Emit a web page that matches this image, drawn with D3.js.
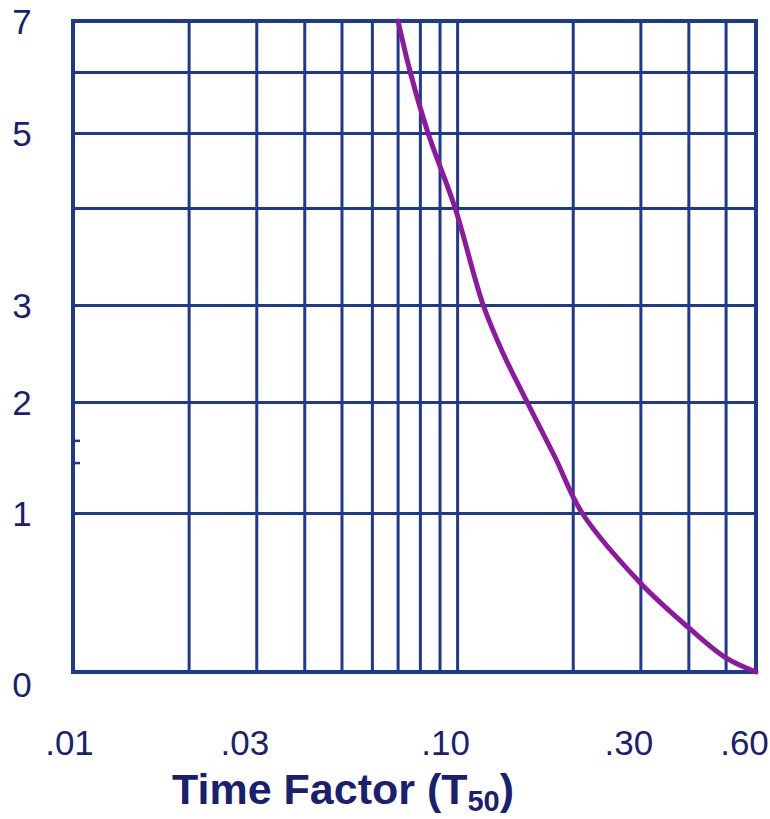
<!DOCTYPE html>
<html>
<head>
<meta charset="utf-8">
<script src="https://cdn.jsdelivr.net/npm/d3@7"></script>
<style>
  html, body { margin: 0; padding: 0; background: #fff; }
  svg { display: block; font-family: "Liberation Sans", Arial, sans-serif; }
</style>
</head>
<body>
<div id="chart"></div>
<script>
// x grid (time factor, log) and labels
var xGrid = [0.02, 0.03, 0.04, 0.05, 0.06, 0.07, 0.08, 0.09, 0.10, 0.20, 0.30, 0.40, 0.50];
var xTicks = [0.01, 0.03, 0.10, 0.30, 0.60];
var xTickText = [".01", ".03", ".10", ".30", ".60"];

// y grid levels and labels
var yLevels = [0, 1, 2, 3, 4, 5, 6, 7];
var yTicks = [0, 1, 2, 3, 5, 7];
var edgeMarks = [1.45, 1.65];

// curve
var timeFactor = [0.0702, 0.0755, 0.0840, 0.0988, 0.1169, 0.1318, 0.1521, 0.180, 0.2116, 0.30, 0.40, 0.50, 0.60];
var curveVal   = [7, 6, 5, 4, 3, 2.5, 2, 1.5, 1, 0.56, 0.28, 0.09, 0];

var W = 770, H = 819;
var gridCol = "#1d3a8f", textCol = "#1a1f70", curveCol = "#8b1a9e";

var svg = d3.select("#chart").append("svg").attr("width", W).attr("height", H);

var x = d3.scaleLog().domain([0.01, 0.6]).range([73, 756]);
// the printed y axis is not evenly spaced, so map it piecewise
var y = d3.scaleLinear().domain(yLevels).range([672, 513, 402, 305, 208, 133, 72, 21]);

var pTop = y(7), pBottom = y(0), pLeft = x(0.01), pRight = x(0.6);

// vertical grid
svg.append("g")
    .attr("transform", "translate(0," + pBottom + ")")
    .call(d3.axisBottom(x).tickValues(xGrid).tickSize(-(pBottom - pTop)).tickFormat(""))
    .call(function (g) {
        g.select(".domain").remove();
        g.selectAll("line").attr("stroke", gridCol).attr("stroke-width", 3);
    });

// horizontal grid
svg.append("g")
    .attr("transform", "translate(" + pLeft + ",0)")
    .call(d3.axisLeft(y).tickValues(yLevels.slice(1, 7)).tickSize(-(pRight - pLeft)).tickFormat(""))
    .call(function (g) {
        g.select(".domain").remove();
        g.selectAll("line").attr("stroke", gridCol).attr("stroke-width", 3);
    });

// frame
svg.append("rect")
    .attr("x", pLeft).attr("y", pTop)
    .attr("width", pRight - pLeft).attr("height", pBottom - pTop)
    .attr("fill", "none").attr("stroke", gridCol).attr("stroke-width", 4);

// little marks on the left edge
svg.selectAll(".mark").data(edgeMarks).enter().append("line")
    .attr("x1", pLeft).attr("x2", pLeft + 7)
    .attr("y1", function (d) { return y(d); }).attr("y2", function (d) { return y(d); })
    .attr("stroke", gridCol).attr("stroke-width", 2.5);

// x labels
svg.append("g")
    .attr("transform", "translate(0," + 755 + ")")
    .call(d3.axisBottom(x).tickValues(xTicks).tickSize(0)
        .tickFormat(function (d, i) { return xTickText[i]; }))
    .call(function (g) {
        g.select(".domain").remove();
        g.selectAll("text")
            .attr("y", 0).attr("dy", 0)
            .attr("dx", function (d, i) { return i === 0 ? -4 : -12; })
            .attr("fill", textCol)
            .style("font-size", "35px");
    });

// y labels
svg.append("g")
    .attr("transform", "translate(22,0)")
    .call(d3.axisLeft(y).tickValues(yTicks).tickSize(0).tickFormat(d3.format("d")))
    .call(function (g) {
        g.select(".domain").remove();
        g.selectAll("text")
            .attr("x", 0).attr("text-anchor", "middle")
            .attr("dy", function (d) { return d === 0 ? "0.7em" : "0.36em"; })
            .attr("fill", textCol)
            .style("font-size", "35px");
    });

// curve
var pts = timeFactor.map(function (t, i) { return [t, curveVal[i]]; });
var line = d3.line()
    .x(function (d) { return x(d[0]); })
    .y(function (d) { return y(d[1]); })
    .curve(d3.curveCatmullRom.alpha(0.5));

svg.append("path")
    .datum(pts)
    .attr("d", line)
    .attr("fill", "none")
    .attr("stroke", curveCol)
    .attr("stroke-width", 5)
    .attr("stroke-linecap", "round");

// axis title
var title = svg.append("text")
    .attr("x", 172).attr("y", 804)
    .attr("fill", textCol)
    .style("font-size", "43px")
    .style("font-weight", "bold");
title.append("tspan").text("Time Factor (T");
title.append("tspan").attr("dy", 7).style("font-size", "29px").text("50");
title.append("tspan").attr("dy", -7).text(")");
</script>
</body>
</html>
